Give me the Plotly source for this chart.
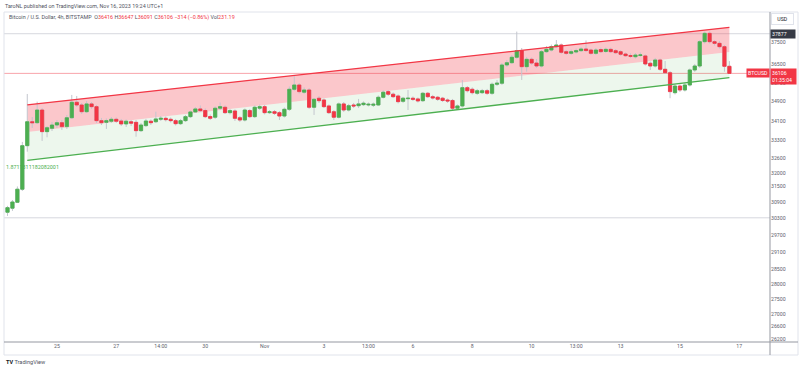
import math
import pandas as pd
import plotly.graph_objects as go

# ---------------- data (BTCUSD, 4h, Bitstamp) ----------------
first_bar = "2023-10-23 09:00"
open_ = [30535, 30685, 30905, 31395, 33090, 34060, 34020, 34545, 33655, 33790,
         33925, 34020, 33860, 34225, 34870, 34755, 34475, 34800, 34685, 34105,
         34035, 34080, 34160, 34090, 33970, 34060, 34035, 33695, 33900, 34080,
         34060, 34160, 34200, 34160, 34105, 33980, 34105, 34270, 34465, 34590,
         34525, 34275, 34245, 34620, 34660, 34435, 34505, 34225, 34130, 34520,
         34270, 34620, 34685, 34435, 34475, 34435, 34295, 34575, 35420, 35605,
         35295, 35390, 34660, 35040, 34965, 34715, 34475, 34245, 34800, 34545,
         34755, 34725, 34770, 34755, 34745, 34755, 35080, 35320, 35210, 35135,
         34910, 35020, 35040, 35010, 34935, 35250, 35105, 35080, 35040, 34965,
         34945, 34620, 34715, 35490, 35420, 35250, 35275, 35360, 35250, 35635,
         35680, 36475, 36575, 36815, 37110, 36400, 36725, 36560, 36430, 37065,
         37140, 37290, 37365, 37065, 36990, 37050, 37110, 37185, 37140, 36990,
         37160, 37075, 37170, 37110, 37065, 36960, 36890, 36840, 36895, 36875,
         36550, 36430, 36695, 36285, 36135, 35275, 35560, 35390, 35605, 36255,
         36430, 37515, 37895, 37515, 37440, 37290, 36416]
high_ = [30770, 30990, 31500, 33240, 35220, 34255, 34895, 34630, 33885, 34050,
         34130, 34130, 34340, 35180, 35135, 34840, 34925, 34880, 34755, 34215,
         34195, 34255, 34235, 34175, 34150, 34130, 34130, 34010, 34175, 34155,
         34475, 34295, 34275, 34235, 34175, 34175, 34340, 34525, 34670, 34735,
         34610, 34360, 34695, 34860, 34735, 34590, 34570, 34295, 34610, 34590,
         34735, 34775, 34755, 34545, 34545, 34505, 34650, 35540, 36035, 35690,
         35500, 35475, 35050, 35135, 35030, 34775, 34545, 34860, 34880, 34800,
         34840, 35010, 34905, 34860, 34860, 35155, 35370, 35390, 35285, 35200,
         35095, 35390, 35115, 35070, 35305, 35305, 35180, 35135, 35095, 35030,
         35010, 34775, 35820, 35560, 35500, 35435, 35435, 35435, 35710, 35820,
         36560, 36695, 36915, 37975, 37230, 36830, 36805, 36740, 37140, 37320,
         37385, 37590, 37430, 37140, 37160, 37205, 37275, 37570, 37205, 37230,
         37250, 37250, 37250, 37185, 37140, 37030, 36990, 37005, 37030, 36940,
         36630, 36785, 36760, 36650, 36210, 35625, 35625, 35690, 36320, 36520,
         37590, 37975, 37990, 37590, 37545, 37365, 36647]
low_ = [30400, 30585, 30880, 31330, 32850, 33805, 33970, 33280, 33425, 33680,
        33805, 33725, 33765, 34175, 34670, 34380, 34420, 34590, 34010, 33925,
        33765, 34010, 34010, 33885, 33845, 33885, 33450, 33640, 33845, 33925,
        34010, 34090, 34070, 34030, 33905, 33925, 34050, 34215, 34420, 34465,
        34215, 34130, 34175, 34545, 34380, 34360, 34090, 34050, 34070, 34215,
        34215, 34545, 34360, 34380, 34340, 34130, 34235, 34505, 35350, 35240,
        35220, 34590, 34340, 34840, 34630, 34380, 34130, 34195, 34465, 34485,
        34630, 34630, 34715, 34695, 34670, 34715, 35030, 35135, 35050, 34820,
        34840, 34545, 34925, 34860, 34880, 35050, 34985, 34925, 34880, 34840,
        34545, 34545, 34650, 35285, 35200, 35180, 35220, 35180, 35180, 35560,
        35605, 36385, 36520, 36740, 35820, 36180, 36475, 36345, 36365, 37005,
        37075, 37230, 36960, 36915, 36915, 36985, 37050, 37050, 36915, 36915,
        37005, 37005, 37005, 36960, 36875, 36830, 36780, 36760, 36830, 36450,
        36255, 36365, 36210, 36080, 35040, 35200, 35305, 35325, 35540, 36170,
        36345, 37430, 37430, 37340, 37205, 36180, 36091]
close_ = [30705, 30915, 31395, 33090, 34060, 34020, 34545, 33655, 33815, 33925,
          34020, 33860, 34225, 34870, 34755, 34475, 34800, 34685, 34105, 34020,
          34105, 34160, 34080, 33970, 34080, 34000, 33695, 33925, 34090, 34020,
          34175, 34200, 34145, 34105, 33980, 34105, 34270, 34465, 34590, 34520,
          34270, 34200, 34620, 34685, 34435, 34520, 34200, 34130, 34545, 34270,
          34660, 34685, 34435, 34470, 34410, 34295, 34575, 35420, 35605, 35320,
          35390, 34660, 34995, 34935, 34685, 34435, 34245, 34800, 34545, 34725,
          34715, 34800, 34830, 34785, 34785, 35080, 35295, 35210, 35105, 34895,
          35040, 35040, 34995, 34925, 35250, 35105, 35050, 34995, 34945, 34925,
          34620, 34715, 35490, 35360, 35275, 35360, 35360, 35250, 35635, 35680,
          36475, 36575, 36815, 37110, 36400, 36725, 36560, 36430, 37065, 37170,
          37290, 37365, 37035, 36990, 37065, 37110, 37185, 37115, 36990, 37140,
          37065, 37170, 37065, 37020, 36950, 36885, 36860, 36915, 36920, 36520,
          36430, 36695, 36285, 36135, 35320, 35560, 35390, 35605, 36255, 36430,
          37515, 37895, 37515, 37440, 37290, 36416, 36106]

x_tick_dates = ["2023-10-25 01:00", "2023-10-27 01:00", "2023-10-28 13:00",
                "2023-10-30 01:00", "2023-11-01 01:00", "2023-11-03 01:00",
                "2023-11-04 13:00", "2023-11-06 01:00", "2023-11-08 01:00",
                "2023-11-10 01:00", "2023-11-11 13:00", "2023-11-13 01:00",
                "2023-11-15 01:00", "2023-11-17 01:00"]
x_tick_text = ["25", "27", "14:00", "30", "Nov", "3", "13:00", "6", "8", "10",
               "13:00", "13", "15", "17"]
price_ticks = [37500, 36500, 35700, 34900, 34100, 33300, 32600, 32000, 31500,
               30900, 30300, 29700, 29100, 28500, 28000, 27500, 27000, 26600, 26200]

channel_first_bar = 4          # regression channel start (bar index)
channel_mid = [33635, 37045]   # centre line at first / last bar
channel_dev = 1125             # half width of channel
pearson_text = "1.8711311182082001"

high_line = 37877
support_line = 30330
last_price = 36106
countdown = "01:35:04"

# ---------------- styling ----------------
GREEN = "#4caf50"
RED = "#f23645"
WICK = "#c3c6ce"
FONT = "Roboto"
TXT = "#5d606b"

times = pd.date_range(first_bar, periods=len(open_), freq="4h")
body_hi = [max(o, c) for o, c in zip(open_, close_)]
body_lo = [min(o, c) for o, c in zip(open_, close_)]

fig = go.Figure()
# wicks (grey)
fig.add_trace(go.Candlestick(
    x=times, open=open_, high=high_, low=low_, close=close_,
    increasing=dict(line=dict(color=WICK, width=1), fillcolor=WICK),
    decreasing=dict(line=dict(color=WICK, width=1), fillcolor=WICK),
    whiskerwidth=0, hoverinfo="skip", showlegend=False))
# bodies (coloured)
fig.add_trace(go.Candlestick(
    x=times, open=open_, high=body_hi, low=body_lo, close=close_,
    increasing=dict(line=dict(color=GREEN, width=0.8), fillcolor=GREEN),
    decreasing=dict(line=dict(color=RED, width=0.8), fillcolor=RED),
    whiskerwidth=0, hoverinfo="skip", showlegend=False))

# plot-area geometry (pixels) for paper-referenced decorations
PL, PR, PT, PB = 4, 770, 12, 342
W, H = PR - PL, PB - PT
def pxx(px):
    return (px - PL) / W
def pxy(py):
    return (PB - py) / H

shapes = []
t0 = times[channel_first_bar].strftime("%Y-%m-%d_%H:%M:%S")
t1 = times[-1].strftime("%Y-%m-%d_%H:%M:%S")
up = [m + channel_dev for m in channel_mid]
dn = [m - channel_dev for m in channel_mid]
shapes.append(dict(type="path", xref="x", yref="y", layer="below",
                   path=f"M{t0},{up[0]} L{t1},{up[1]} L{t1},{channel_mid[1]} L{t0},{channel_mid[0]} Z",
                   fillcolor="rgba(242,54,69,0.28)", line=dict(width=0)))
shapes.append(dict(type="path", xref="x", yref="y", layer="below",
                   path=f"M{t0},{channel_mid[0]} L{t1},{channel_mid[1]} L{t1},{dn[1]} L{t0},{dn[0]} Z",
                   fillcolor="rgba(76,175,80,0.10)", line=dict(width=0)))
shapes.append(dict(type="line", xref="x", yref="y", layer="above",
                   x0=times[channel_first_bar], x1=times[-1], y0=up[0], y1=up[1],
                   line=dict(color=RED, width=1.3)))
shapes.append(dict(type="line", xref="x", yref="y", layer="above",
                   x0=times[channel_first_bar], x1=times[-1], y0=dn[0], y1=dn[1],
                   line=dict(color=GREEN, width=1.3)))
# horizontal price lines
for val, col in [(high_line, "#d6d8de"), (support_line, "#d6d8de"),
                 (last_price, "rgba(242,54,69,0.45)")]:
    shapes.append(dict(type="line", xref="paper", yref="y", layer="below",
                       x0=0, x1=1, y0=val, y1=val, line=dict(color=col, width=1)))
# frame
RB = pxx(798)
BB = pxy(355)
shapes.append(dict(type="rect", xref="paper", yref="paper", x0=0, x1=RB, y0=BB, y1=1,
                   line=dict(color="#e0e3eb", width=1), layer="below"))
shapes.append(dict(type="line", xref="paper", yref="paper", x0=1, x1=1, y0=BB, y1=1,
                   line=dict(color="#9598a1", width=1)))
shapes.append(dict(type="line", xref="paper", yref="paper", x0=0, x1=RB, y0=0, y1=0,
                   line=dict(color="#9598a1", width=1)))

R = f'<span style="color:{RED}">'
legend_txt = (f"Bitcoin / U.S. Dollar, 4h, BITSTAMP  O{R}{open_[-1]}</span> "
              f"H{R}{high_[-1]}</span> L{R}{low_[-1]}</span> C{R}{close_[-1]}</span> "
              f"{R}\u2212314 (\u22120.86%)</span> Vol{R}231.19</span>")

ann = []
ann.append(dict(xref="paper", yref="paper", x=pxx(3), y=pxy(6), xanchor="left", yanchor="middle",
                text="TaroNL published on TradingView.com, Nov 16, 2023 19:24 UTC+1",
                showarrow=False, font=dict(family=FONT, size=5.4, color="#50535e")))
ann.append(dict(xref="paper", yref="paper", x=pxx(7), y=pxy(17.5), xanchor="left", yanchor="middle",
                text=legend_txt, showarrow=False, font=dict(family=FONT, size=5.4, color="#50535e")))
ann.append(dict(xref="paper", yref="paper", x=pxx(782.5), y=pxy(19), xanchor="center", yanchor="middle",
                text="USD", showarrow=False, width=17, borderpad=2, bordercolor="#e0e3eb", borderwidth=1,
                font=dict(family=FONT, size=5.2, color="#131722")))
ann.append(dict(xref="paper", yref="y", x=pxx(770.5), y=math.log10(high_line), xanchor="left",
                yanchor="middle", text=str(high_line), showarrow=False, width=22, align="left",
                bgcolor="#363a45", borderpad=1, font=dict(family=FONT, size=5.2, color="white")))
ann.append(dict(xref="paper", yref="y", x=pxx(770.5), y=math.log10(last_price), xanchor="left",
                yanchor="top", yshift=5, text=f"{last_price}<br>{countdown}", showarrow=False,
                width=23, align="left", bgcolor=RED, borderpad=1,
                font=dict(family=FONT, size=5.2, color="white")))
ann.append(dict(xref="paper", yref="y", x=pxx(769.5), y=math.log10(last_price), xanchor="right",
                yanchor="middle", text="BTCUSD", showarrow=False, bgcolor=RED, borderpad=1,
                font=dict(family=FONT, size=5.2, color="white")))
ann.append(dict(xref="paper", yref="paper", x=pxx(3.5), y=pxy(167), xanchor="left", yanchor="middle",
                text=pearson_text, showarrow=False, font=dict(family=FONT, size=5.4, color=GREEN)))
ann.append(dict(xref="paper", yref="paper", x=pxx(4), y=pxy(362.5), xanchor="left", yanchor="middle",
                text='<b>TV</b> <span style="color:#50535e">TradingView</span>', showarrow=False,
                font=dict(family=FONT, size=5.6, color="#131722")))

fig.update_layout(
    width=800, height=370, autosize=False,
    margin=dict(l=PL, r=800 - PR, t=PT, b=370 - PB, pad=0),
    paper_bgcolor="white", plot_bgcolor="white",
    showlegend=False, boxgap=0.35, boxgroupgap=0, boxmode="overlay",
    shapes=shapes, annotations=ann,
    xaxis=dict(type="date", range=["2023-10-23 06:10", "2023-11-18 01:51"],
               rangeslider=dict(visible=False), showgrid=False, zeroline=False,
               showline=False, ticks="", tickvals=x_tick_dates, ticktext=x_tick_text,
               tickfont=dict(family=FONT, size=5.2, color=TXT), automargin=False),
    yaxis=dict(type="log", side="right",
               range=[math.log10(26108), math.log10(38883)],
               tickvals=price_ticks, ticktext=[str(v) for v in price_ticks],
               showgrid=False, zeroline=False, showline=False, ticks="",
               tickfont=dict(family=FONT, size=5.2, color=TXT), automargin=False),
)

fig.write_html("out.html", config={"displayModeBar": False, "staticPlot": True},
               post_script="document.body.style.margin='0';document.body.style.padding='0';")
